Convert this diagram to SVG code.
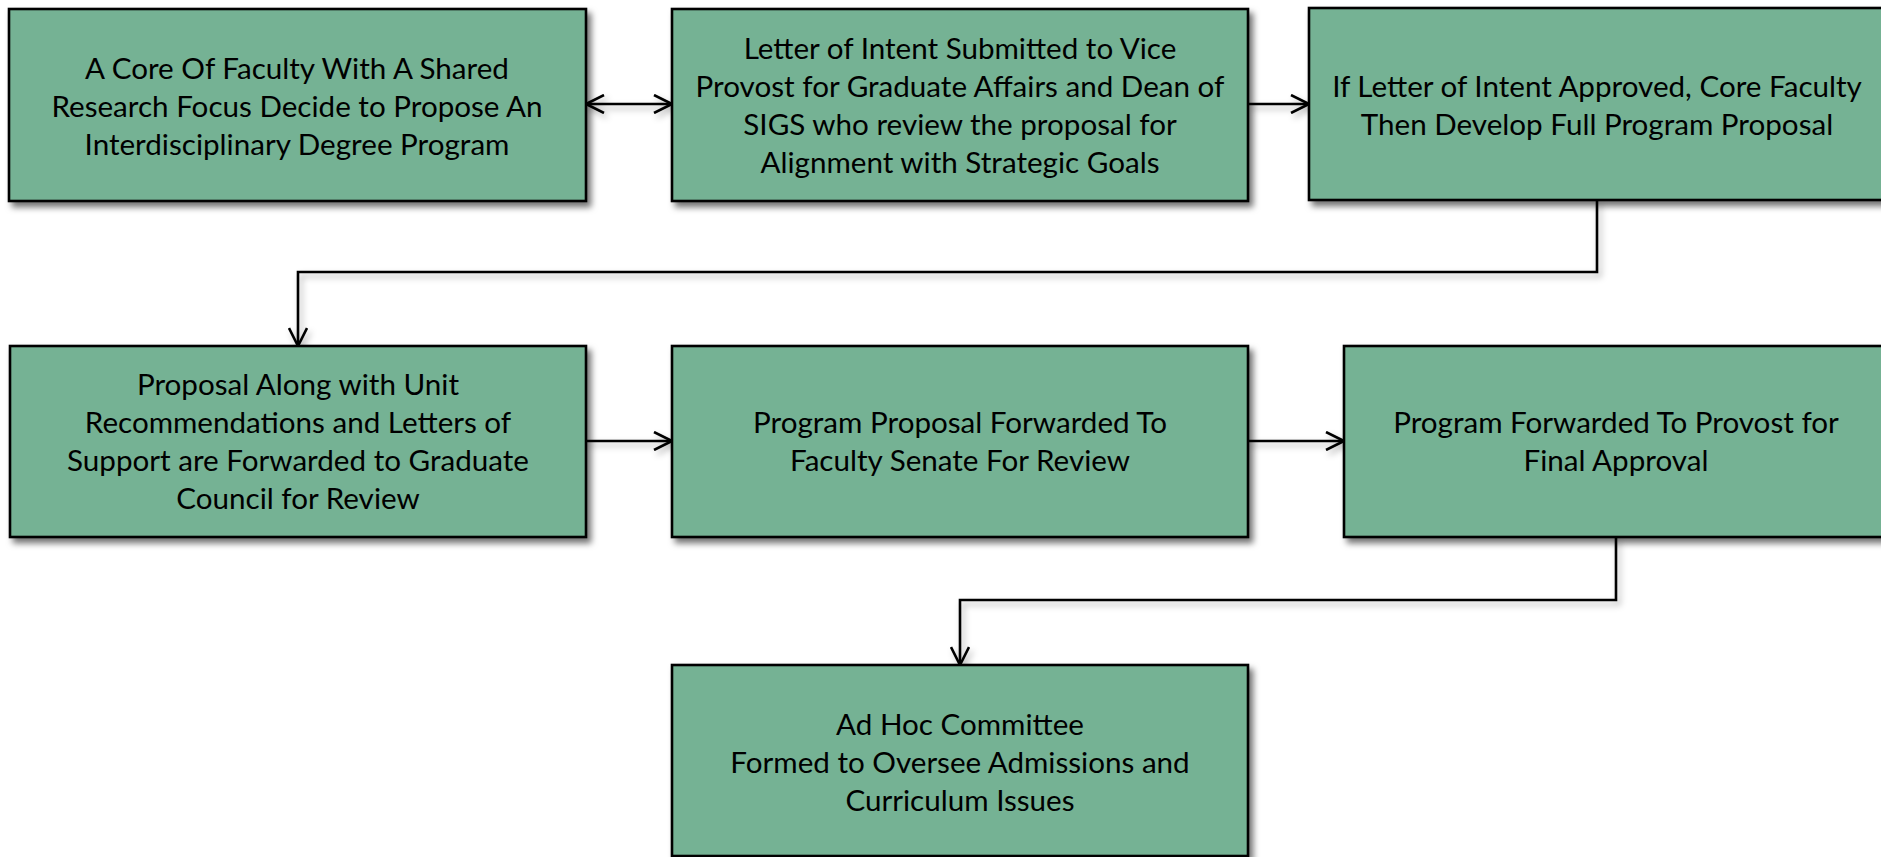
<svg xmlns="http://www.w3.org/2000/svg" width="1881" height="857" viewBox="0 0 1881 857">
<style>
.box{fill:#75B294;stroke:#000;stroke-width:2.6;filter:url(#sh)}
.t{font-family:Lato,"Open Sans","Liberation Sans",sans-serif;font-size:29.6px;fill:#000;text-anchor:middle}
.c{fill:none;stroke:#000;stroke-width:2.6}
</style>
<defs>
<filter id="sh" x="-5%" y="-5%" width="115%" height="120%">
<feDropShadow dx="4" dy="5" stdDeviation="3" flood-color="#000" flood-opacity="0.55"/>
</filter>
<filter id="sh2" filterUnits="userSpaceOnUse" x="0" y="0" width="1881" height="857">
<feDropShadow dx="3" dy="4" stdDeviation="3" flood-color="#000" flood-opacity="0.3"/>
</filter>
<marker id="ah" viewBox="0 0 20 20" refX="19" refY="10" markerWidth="20" markerHeight="20" markerUnits="userSpaceOnUse" orient="auto-start-reverse">
<path d="M1,1 L19,10 L1,19" fill="none" stroke="#000" stroke-width="2.6"/>
</marker>
</defs>
<rect width="1881" height="857" fill="#fff"/>
<g id="connectors" filter="url(#sh2)">
<path class="c" d="M586,104 L672,104" marker-start="url(#ah)" marker-end="url(#ah)"/>
<path class="c" d="M1248,104 L1309,104" marker-end="url(#ah)"/>
<path class="c" d="M1597,200 L1597,272 L298,272 L298,346" marker-end="url(#ah)"/>
<path class="c" d="M586,441 L672,441" marker-end="url(#ah)"/>
<path class="c" d="M1248,441 L1344,441" marker-end="url(#ah)"/>
<path class="c" d="M1616,537 L1616,600 L960,600 L960,665" marker-end="url(#ah)"/>
</g>
<g id="n1">
<rect class="box" x="9" y="9" width="577" height="192"/>
<text class="t" x="297" y="79">A Core Of Faculty With A Shared</text>
<text class="t" x="297" y="117">Research Focus Decide to Propose An</text>
<text class="t" x="297" y="155">Interdisciplinary Degree Program</text>
</g>
<g id="n2">
<rect class="box" x="672" y="9" width="576" height="192"/>
<text class="t" x="960" y="59">Letter of Intent Submitted to Vice</text>
<text class="t" x="960" y="97">Provost for Graduate Affairs and Dean of</text>
<text class="t" x="960" y="135">SIGS who review the proposal for</text>
<text class="t" x="960" y="173">Alignment with Strategic Goals</text>
</g>
<g id="n3">
<rect class="box" x="1309" y="8" width="576" height="192"/>
<text class="t" x="1597" y="97">If Letter of Intent Approved, Core Faculty</text>
<text class="t" x="1597" y="135">Then Develop Full Program Proposal</text>
</g>
<g id="n4">
<rect class="box" x="10" y="346" width="576" height="191"/>
<text class="t" x="298" y="395">Proposal Along with Unit</text>
<text class="t" x="298" y="433">Recommendations and Letters of</text>
<text class="t" x="298" y="471">Support are Forwarded to Graduate</text>
<text class="t" x="298" y="509">Council for Review</text>
</g>
<g id="n5">
<rect class="box" x="672" y="346" width="576" height="191"/>
<text class="t" x="960" y="433">Program Proposal Forwarded To</text>
<text class="t" x="960" y="471">Faculty Senate For Review</text>
</g>
<g id="n6">
<rect class="box" x="1344" y="346" width="544" height="191"/>
<text class="t" x="1616" y="433">Program Forwarded To Provost for</text>
<text class="t" x="1616" y="471">Final Approval</text>
</g>
<g id="n7">
<rect class="box" x="672" y="665" width="576" height="191"/>
<text class="t" x="960" y="735">Ad Hoc Committee</text>
<text class="t" x="960" y="773">Formed to Oversee Admissions and</text>
<text class="t" x="960" y="811">Curriculum Issues</text>
</g>
</svg>
